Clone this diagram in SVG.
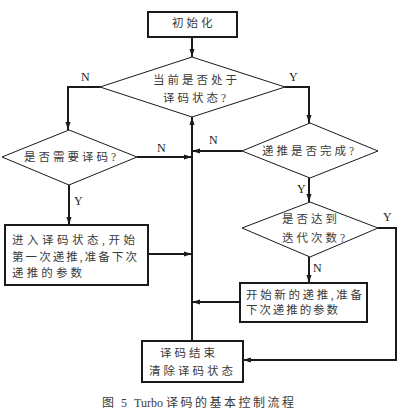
<svg xmlns="http://www.w3.org/2000/svg" width="401" height="412" viewBox="0 0 401 412">
<defs>
<style>
.box{fill:#fff;stroke:#1a1a1a;stroke-width:2}
.dia{fill:#fff;stroke:#1a1a1a;stroke-width:1}
.con{fill:none;stroke:#1a1a1a;stroke-width:2}
.t{font-family:"Liberation Serif","Noto Sans CJK SC",serif;font-size:11.5px;fill:#3a3a3a;letter-spacing:3px;dominant-baseline:central}
.tb{font-family:"Liberation Serif","Noto Sans CJK SC",serif;font-size:11.5px;fill:#3a3a3a;dominant-baseline:central}
.lb{font-family:"Liberation Serif",serif;font-size:12px;fill:#222;dominant-baseline:central}
.cap{font-family:"Liberation Serif","Noto Sans CJK SC",serif;font-size:12px;fill:#3a3a3a;dominant-baseline:central}
</style>
<marker id="arr" viewBox="0 0 8 6" refX="8" refY="3" markerWidth="8" markerHeight="6" markerUnits="userSpaceOnUse" orient="auto">
<path d="M0,0.5 L8,3 L0,5.5 z" fill="#1a1a1a"/>
</marker>
</defs>
<rect width="401" height="412" fill="#fff"/>
<g id="connectors">
<path class="con" d="M192,37 V57" marker-end="url(#arr)"/>
<path class="con" d="M100,87 H68 V130" marker-end="url(#arr)"/>
<path class="con" d="M285,87 H309 V123" marker-end="url(#arr)"/>
<path class="con" d="M137,157 H192" marker-end="url(#arr)"/>
<path class="con" d="M69,185 V225" marker-end="url(#arr)"/>
<path class="con" d="M148,254 H192" marker-end="url(#arr)"/>
<path class="con" d="M242,151 H192" marker-end="url(#arr)"/>
<path class="con" d="M309,178 V202" marker-end="url(#arr)"/>
<path class="con" d="M309,257 V283" marker-end="url(#arr)"/>
<path class="con" d="M378,228 H396 V360 H243" marker-end="url(#arr)"/>
<path class="con" d="M240,302 H192" marker-end="url(#arr)"/>
<path class="con" d="M192,341 V117" marker-end="url(#arr)"/>
<text class="lb" x="81" y="77">N</text>
<text class="lb" x="289" y="77">Y</text>
<text class="lb" x="157" y="148">N</text>
<text class="lb" x="74" y="201">Y</text>
<text class="lb" x="209" y="140">N</text>
<text class="lb" x="297" y="189">Y</text>
<text class="lb" x="383" y="217">Y</text>
<text class="lb" x="313" y="268">N</text>
</g>
<g id="init">
<rect class="box" x="148" y="12" width="89" height="25"/>
<text class="t" x="172" y="23" letter-spacing="4">初始化</text>
</g>
<g id="d1">
<polygon class="dia" points="192,57 285,87 192,117 100,87"/>
<text class="t" x="153" y="80">当前是否处于</text>
<text class="t" x="163" y="98">译码状态?</text>
</g>
<g id="d2">
<polygon class="dia" points="69,130 137,157 69,185 2,157"/>
<text class="t" x="24" y="157">是否需要译码?</text>
</g>
<g id="b1">
<rect class="box" x="5" y="225" width="143" height="60"/>
<text class="tb" x="12" y="240" textLength="123" lengthAdjust="spacing">进入译码状态,开始</text>
<text class="tb" x="12" y="257" textLength="125" lengthAdjust="spacing">第一次递推,准备下次</text>
<text class="tb" x="12" y="273" textLength="70" lengthAdjust="spacing">递推的参数</text>
</g>
<g id="d3">
<polygon class="dia" points="310,123 378,151 310,178 242,151"/>
<text class="t" x="262" y="151">递推是否完成?</text>
</g>
<g id="d4">
<polygon class="dia" points="310,202 378,228 310,257 242,228"/>
<text class="t" x="282" y="219">是否达到</text>
<text class="t" x="282" y="238">迭代次数?</text>
</g>
<g id="b2">
<rect class="box" x="240" y="283" width="127" height="39"/>
<text class="tb" x="246" y="295" textLength="116" lengthAdjust="spacing">开始新的递推,准备</text>
<text class="tb" x="246" y="310" textLength="92" lengthAdjust="spacing">下次递推的参数</text>
</g>
<g id="end">
<rect class="box" x="142" y="341" width="101" height="41"/>
<text class="t" x="160" y="353">译码结束</text>
<text class="t" x="149" y="371">清除译码状态</text>
</g>
<g id="caption">
<text class="cap" x="102" y="403"><tspan letter-spacing="2">图 5 </tspan><tspan>Turbo </tspan><tspan letter-spacing="2.5">译码的基本控制流程</tspan></text>
</g>
</svg>
